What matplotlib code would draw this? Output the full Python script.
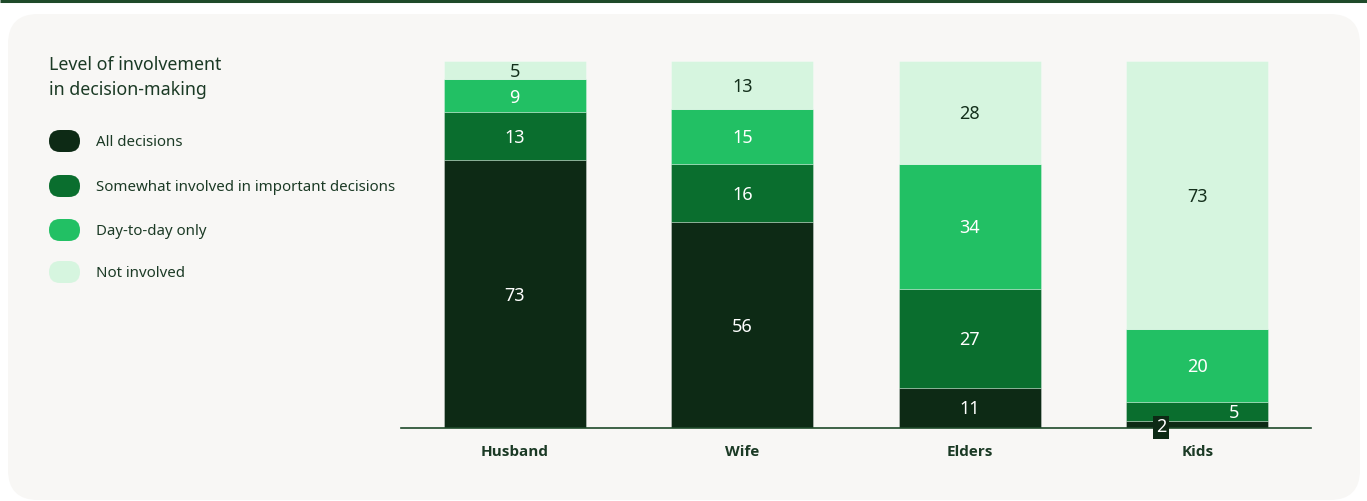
import matplotlib
matplotlib.use("Agg")
import matplotlib.pyplot as plt
from matplotlib.patches import FancyBboxPatch
from matplotlib.font_manager import FontProperties

plt.rcParams['font.family'] = ['Noto Sans', 'DejaVu Sans']

# Data: share of respondents (%) by family member
members = ["Husband", "Wife", "Elders", "Kids"]
levels = ["All decisions", "Somewhat involved in important decisions",
          "Day-to-day only", "Not involved"]
all_decisions = [73, 56, 11, 2]
somewhat_involved = [13, 16, 27, 5]
day_to_day = [9, 15, 34, 20]
not_involved = [5, 13, 28, 73]
legend_title = ["Level of involvement", "in decision-making"]

series = [all_decisions, somewhat_involved, day_to_day, not_involved]
colors = ["#0D2A15", "#0A6E2E", "#22C064", "#D6F5DF"]
label_colors = ["white", "white", "white", "#14301C"]
text_color = "#1B3A25"
panel_color = "#F8F7F5"

W, H = 1367, 501
fig = plt.figure(figsize=(W / 100, H / 100), dpi=100)
fig.patch.set_facecolor("white")

# Background layer in pixel coordinates
bg = fig.add_axes([0, 0, 1, 1])
bg.set_xlim(0, W)
bg.set_ylim(H, 0)
bg.axis("off")
bg.add_patch(FancyBboxPatch((8, 14), 1352, 486,
                            boxstyle="round,pad=0,rounding_size=30",
                            facecolor=panel_color, edgecolor="none"))
bg.plot([0, W], [1, 1], color="#1E4A2A", lw=2.2, solid_capstyle="butt")

# Legend
for y, line in zip([65, 90], legend_title):
    bg.text(49, y, line, fontsize=12.8, color=text_color,
            va="center", ha="left")
legend_y = [141, 186, 230, 272]
for y, c, lab in zip(legend_y, colors, levels):
    bg.add_patch(FancyBboxPatch((49, y - 11), 31, 22,
                                boxstyle="round,pad=0,rounding_size=11",
                                facecolor=c, edgecolor="none"))
    bg.text(96, y + 1.5, lab, fontsize=10.8, color=text_color,
            va="center", ha="left")

# Stacked bars
ax = fig.add_axes([401 / W, 1 - 428 / H, 910 / W, 367 / H])
ax.set_facecolor("none")
x = list(range(len(members)))
bar_w = 0.624
bottoms = [0] * len(members)
for vals, c, lc in zip(series, colors, label_colors):
    ax.bar(x, vals, bottom=bottoms, width=bar_w, color=c,
           edgecolor=(1, 1, 1, 0.35), linewidth=0.6)
    for i, (b, v) in enumerate(zip(bottoms, vals)):
        yc = b + v / 2 - 0.45
        xc = x[i]
        box = None
        if v <= 2:
            xc -= 0.16
            yc -= 0.4
            box = dict(boxstyle="square,pad=0.15", facecolor=colors[0],
                       edgecolor="none")
        elif v < 9 and b < 10:
            xc += 0.16
        ax.text(xc, yc, str(v), ha="center", va="center", fontsize=13,
                color=lc, bbox=box, zorder=5)
    bottoms = [b + v for b, v in zip(bottoms, vals)]

ax.set_xlim(-0.5, 3.5)
ax.set_ylim(0, 100)
ax.set_yticks([])
ax.set_xticks(x)
bold = FontProperties(family=["Open Sans", "DejaVu Sans"], weight="bold", size=11)
ax.set_xticklabels(members, fontproperties=bold, color=text_color)
ax.tick_params(axis="x", length=0, pad=12)
for s in ["top", "right", "left"]:
    ax.spines[s].set_visible(False)
ax.spines["bottom"].set_color("#1E4A2A")
ax.spines["bottom"].set_linewidth(1.2)

fig.savefig("out.png", dpi=100)
